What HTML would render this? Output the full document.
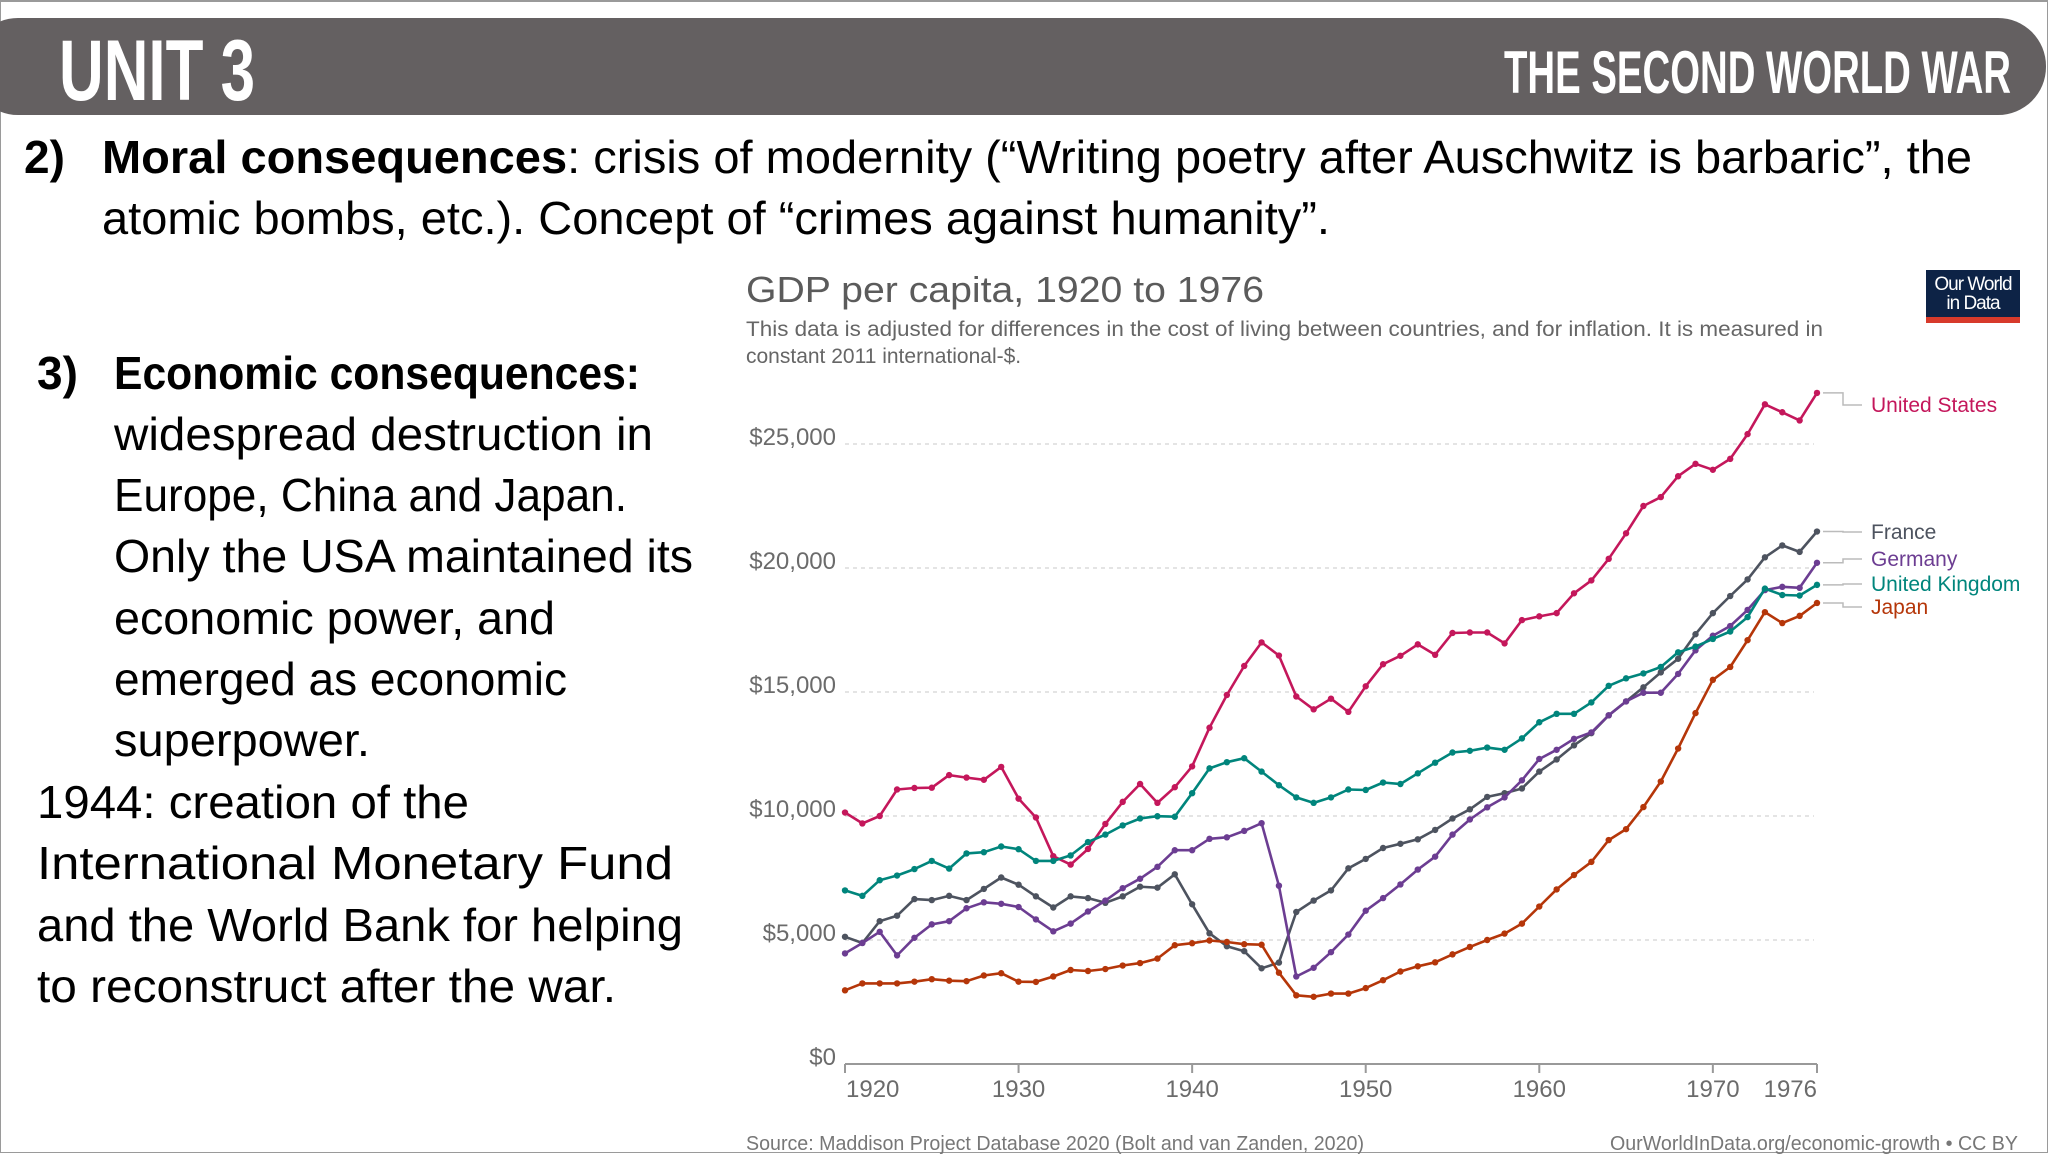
<!DOCTYPE html>
<html><head><meta charset="utf-8">
<style>
html,body{margin:0;padding:0;}
body{width:2048px;height:1152px;position:relative;overflow:hidden;background:#fff;font-family:"Liberation Sans",sans-serif;}
.frame{position:absolute;left:0;top:0;width:2046px;height:1150px;border:1px solid #9a9a9a;border-top:2px solid #9a9a9a;}
.bar{position:absolute;left:-30px;top:18px;width:2076px;height:97px;background:#646061;border-radius:48px;}
.t{position:absolute;white-space:nowrap;transform-origin:0 0;line-height:1;}
.slide{font-family:"Liberation Sans",sans-serif;color:#000;font-size:46px;}
.head{color:#fff;font-weight:bold;}
</style></head>
<body>
<div class="frame"></div>
<div class="bar"></div>
<div class="t head" data-w="196" style="left:59px;top:28px;font-size:86px;">UNIT 3</div>
<div class="t head" data-w="507" style="left:1504px;top:43px;font-size:60px;">THE SECOND WORLD WAR</div>

<div class="t slide" style="left:24px;top:134px;font-weight:bold;">2)</div>
<div class="t slide" data-w="1870" style="left:102px;top:134px;"><b>Moral consequences</b>: crisis of modernity (“Writing poetry after Auschwitz is barbaric”, the</div>
<div class="t slide" data-w="1228" style="left:102px;top:195px;">atomic bombs, etc.). Concept of “crimes against humanity”.</div>

<div class="t slide" style="left:37px;top:350px;font-weight:bold;">3)</div>
<div class="t slide" data-w="526" style="left:114px;top:350px;font-weight:bold;">Economic consequences:</div>
<div class="t slide" data-w="539" style="left:114px;top:411px;">widespread destruction in</div>
<div class="t slide" data-w="513" style="left:114px;top:472px;">Europe, China and Japan.</div>
<div class="t slide" data-w="579" style="left:114px;top:533px;">Only the USA maintained its</div>
<div class="t slide" data-w="441" style="left:114px;top:595px;">economic power, and</div>
<div class="t slide" data-w="453" style="left:114px;top:656px;">emerged as economic</div>
<div class="t slide" data-w="256" style="left:114px;top:717px;">superpower.</div>
<div class="t slide" data-w="432" style="left:37px;top:779px;">1944: creation of the</div>
<div class="t slide" data-w="636" style="left:37px;top:840px;">International Monetary Fund</div>
<div class="t slide" data-w="646" style="left:37px;top:902px;">and the World Bank for helping</div>
<div class="t slide" data-w="579" style="left:37px;top:963px;">to reconstruct after the war.</div>

<div class="t" data-w="518" style="left:746px;top:272px;font-size:36px;color:#5b5b5b;">GDP per capita, 1920 to 1976</div>
<div class="t" data-w="1077" style="left:746px;top:319px;font-size:21px;color:#666;">This data is adjusted for differences in the cost of living between countries, and for inflation. It is measured in</div>
<div class="t" style="left:746px;top:346px;font-size:21px;color:#666;">constant 2011 international-$.</div>

<div style="position:absolute;left:1926px;top:270px;width:94px;height:53px;background:#0d2346;border-bottom:6px solid #d73a2b;box-sizing:border-box;color:#fff;font-size:19px;line-height:19px;text-align:center;padding-top:5px;letter-spacing:-1px;">Our World<br>in Data</div>

<div class="t" data-w="618" style="left:746px;top:1134px;font-size:20px;color:#777;">Source: Maddison Project Database 2020 (Bolt and van Zanden, 2020)</div>
<div class="t" data-w="408" style="left:1610px;top:1134px;font-size:20px;color:#777;">OurWorldInData.org/economic-growth • CC BY</div>

<svg id="chart" width="2048" height="1152" style="position:absolute;left:0;top:0;overflow:visible;"></svg>

<script>
const years=[];for(let y=1920;y<=1976;y++)years.push(y);
const yTicks=[0,5000,10000,15000,20000,25000];
const yTickLabels=["$0","$5,000","$10,000","$15,000","$20,000","$25,000"];
const xTicks=[1920,1930,1940,1950,1960,1970,1976];
const seriesNames=["United States","France","Germany","United Kingdom","Japan"];
const usa=[10.14,9.7,10.0,11.07,11.13,11.14,11.65,11.55,11.46,11.98,10.7,9.94,8.38,8.04,8.67,9.68,10.57,11.29,10.53,11.16,12.0,13.56,14.88,16.05,17.0,16.47,14.82,14.3,14.73,14.2,15.23,16.12,16.46,16.92,16.5,17.38,17.4,17.4,16.96,17.9,18.05,18.18,18.98,19.5,20.37,21.4,22.5,22.86,23.7,24.2,23.96,24.4,25.4,26.6,26.28,25.95,27.06];
const france=[5.13,4.88,5.76,5.98,6.65,6.61,6.78,6.61,7.06,7.52,7.23,6.76,6.31,6.76,6.69,6.5,6.76,7.15,7.11,7.65,6.44,5.27,4.75,4.55,3.86,4.09,6.13,6.59,7.0,7.89,8.27,8.71,8.88,9.06,9.44,9.9,10.27,10.77,10.92,11.11,11.79,12.28,12.85,13.34,14.06,14.62,15.19,15.79,16.34,17.33,18.18,18.87,19.54,20.43,20.91,20.65,21.47];
const germany=[4.46,4.88,5.33,4.38,5.09,5.63,5.76,6.28,6.52,6.46,6.33,5.83,5.35,5.66,6.15,6.59,7.09,7.47,7.95,8.62,8.62,9.08,9.14,9.4,9.71,7.19,3.53,3.88,4.51,5.22,6.18,6.69,7.24,7.84,8.36,9.25,9.86,10.35,10.75,11.44,12.3,12.67,13.11,13.37,14.06,14.62,14.97,14.97,15.73,16.68,17.27,17.66,18.31,19.11,19.24,19.2,20.21];
const uk=[7.0,6.78,7.41,7.6,7.86,8.19,7.88,8.49,8.54,8.77,8.66,8.19,8.19,8.41,8.95,9.25,9.62,9.9,9.99,9.97,10.92,11.92,12.17,12.33,11.79,11.24,10.75,10.53,10.75,11.07,11.05,11.35,11.29,11.72,12.15,12.56,12.63,12.76,12.67,13.13,13.78,14.12,14.12,14.58,15.25,15.55,15.75,16.01,16.6,16.83,17.14,17.44,18.02,19.17,18.91,18.89,19.32];
const japan=[2.97,3.25,3.25,3.25,3.32,3.42,3.36,3.34,3.57,3.66,3.32,3.31,3.53,3.79,3.75,3.83,3.97,4.07,4.25,4.79,4.87,4.98,4.92,4.83,4.81,3.68,2.77,2.71,2.84,2.84,3.06,3.38,3.73,3.94,4.1,4.42,4.72,5.0,5.26,5.66,6.35,7.04,7.62,8.15,9.03,9.47,10.36,11.39,12.72,14.15,15.49,16.01,17.09,18.22,17.78,18.07,18.59];
const legendY=[405,532,559,584,607];

const svg=document.getElementById('chart');
const NS='http://www.w3.org/2000/svg';
const X0=845,X1=1817,Y0=1064,Y1=444;
function xs(y){return X0+(y-1920)/(1976-1920)*(X1-X0);}
function ys(v){return Y0+(v-0)/(25000-0)*(Y1-Y0);}
function mk(tag,attrs){const e=document.createElementNS(NS,tag);for(const k in attrs)e.setAttribute(k,attrs[k]);svg.appendChild(e);return e;}

yTicks.forEach((v,i)=>{
  if(v>0){const g=mk('line',{x1:X0,x2:X1-3,y1:ys(v),y2:ys(v),stroke:'#dcdcdc','stroke-width':1.5,'stroke-dasharray':'4,4'});
  
  }
  const t=mk('text',{x:836,y:ys(v)+1,'text-anchor':'end','font-size':24,fill:'#6b6b6b','font-family':'Liberation Sans'});
  t.textContent=yTickLabels[i];
  
  
});
const ax=mk('line',{x1:X0,x2:X1,y1:Y0,y2:Y0,stroke:'#999','stroke-width':2});


xTicks.forEach(v=>{
  const tk=mk('line',{x1:xs(v),x2:xs(v),y1:Y0,y2:Y0+9,stroke:'#999','stroke-width':2});
  
  
  const t=mk('text',{x:xs(v),y:Y0+33,'text-anchor':v===1920?'start':(v===1976?'end':'middle'),'font-size':24,fill:'#6b6b6b','font-family':'Liberation Sans'});
  if(v===1920)t.setAttribute('x',xs(v)+1);
  t.textContent=String(v);
  
  
});
const colors=['#c4175b','#4d535f','#6c3d92','#00857c','#b53609'];
const data=[usa,france,germany,uk,japan];
data.forEach((arr,si)=>{
  const pts=arr.map((v,i)=>xs(years[i]).toFixed(1)+','+ys(v*1000).toFixed(1)).join(' ');
  const pl=mk('polyline',{points:pts,fill:'none',stroke:colors[si],'stroke-width':2.6,'stroke-linejoin':'round'});
  
  
  arr.forEach((v,i)=>{
    const c=mk('circle',{cx:xs(years[i]),cy:ys(v*1000),r:3.2,fill:colors[si]});
    
    
  });
  const ey=ys(arr[arr.length-1]*1000), ly=legendY[si];
  const cn=mk('polyline',{points:`1823,${ey} 1843,${ey} 1843,${ly} 1862,${ly}`,fill:'none',stroke:'#bbb','stroke-width':1.5});
  
  
  const t=mk('text',{x:1871,y:ly+7,'font-size':21,fill:colors[si],'font-family':'Liberation Sans'});
  t.textContent=seriesNames[si];
  
  
});

document.querySelectorAll('[data-w]').forEach(el=>{
  const w=el.getBoundingClientRect().width;const tw=+el.getAttribute('data-w');
  if(w>0)el.style.transform='scaleX('+(tw/w)+')';
});
</script>
</body></html>
